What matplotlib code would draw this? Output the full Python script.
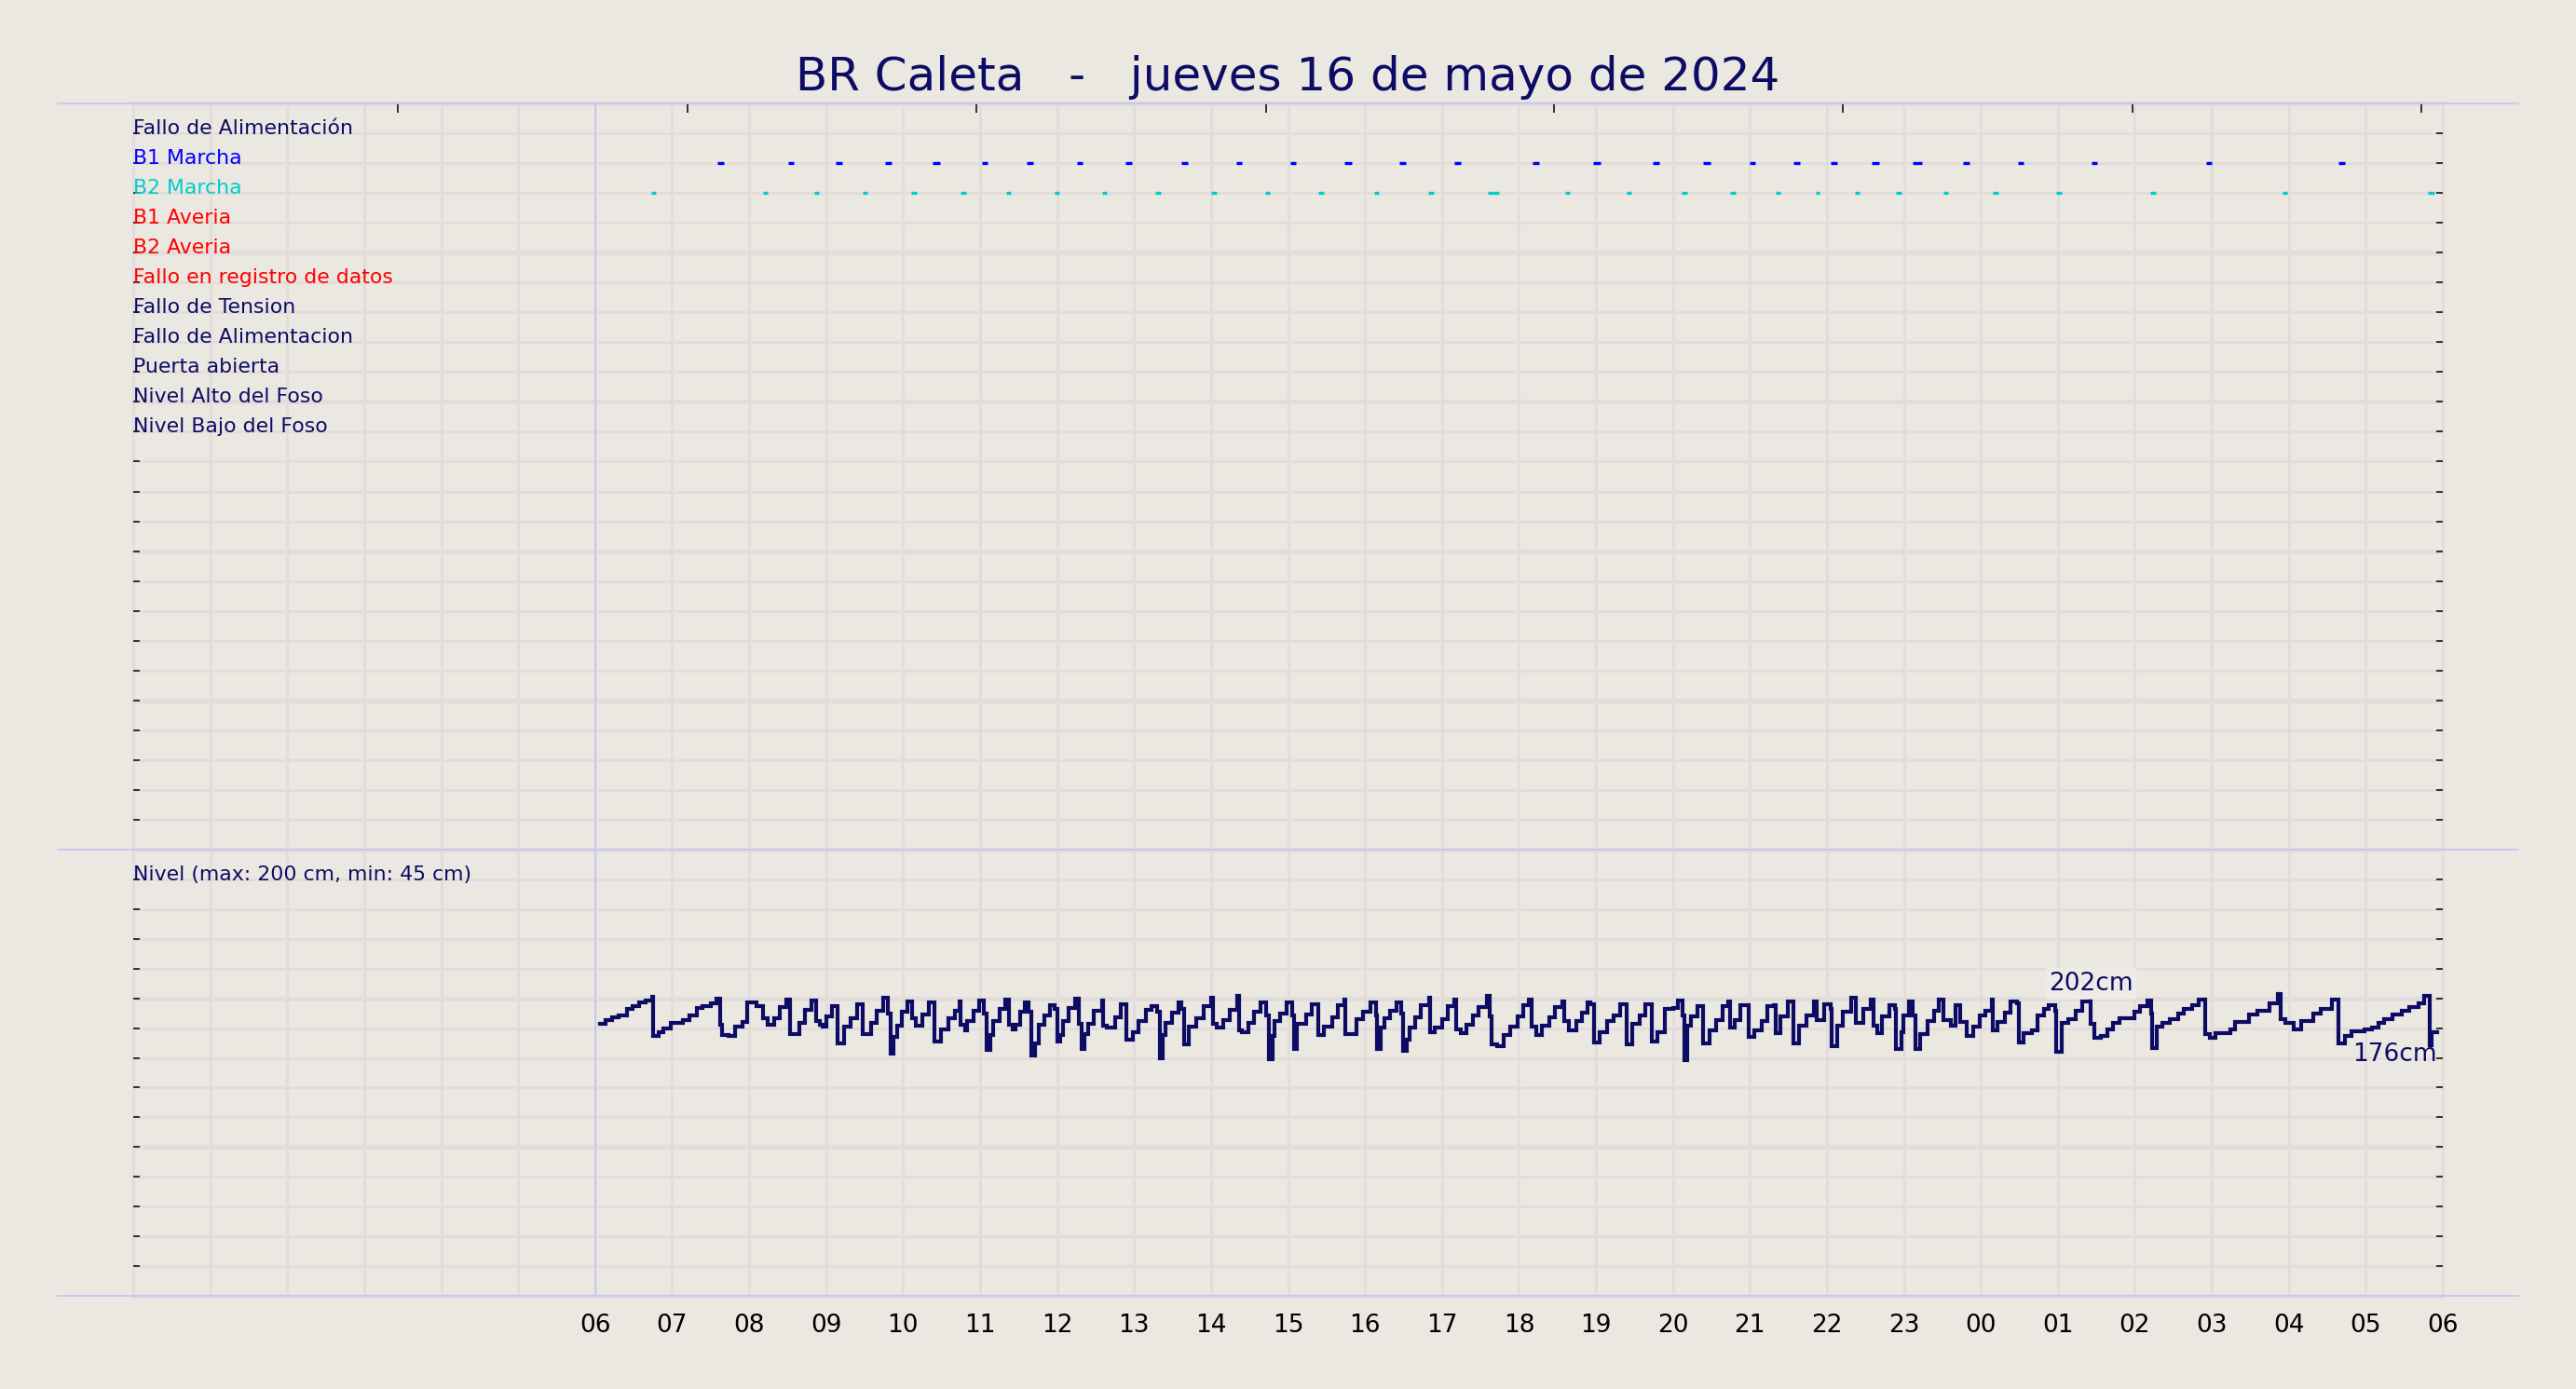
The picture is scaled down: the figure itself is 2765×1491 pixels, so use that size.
import matplotlib
matplotlib.use('Agg')
import matplotlib.pyplot as plt
from matplotlib.lines import Line2D

# ---------------- data ----------------
title = "BR Caleta   -   jueves 16 de mayo de 2024"

row_labels = ["Fallo de Alimentación", "B1 Marcha", "B2 Marcha", "B1 Averia",
              "B2 Averia", "Fallo en registro de datos", "Fallo de Tension",
              "Fallo de Alimentacion", "Puerta abierta", "Nivel Alto del Foso",
              "Nivel Bajo del Foso"]
row_colors = ["#0c0c64", "#0000ff", "#00cccc", "#ff0000", "#ff0000", "#ff0000",
              "#0c0c64", "#0c0c64", "#0c0c64", "#0c0c64", "#0c0c64"]

hour_positions = list(range(6, 31))
hour_labels = ["06", "07", "08", "09", "10", "11", "12", "13", "14", "15", "16",
               "17", "18", "19", "20", "21", "22", "23", "00", "01", "02", "03",
               "04", "05", "06"]
top_ticks = [3.44, 7.20, 10.95, 14.71, 18.45, 22.21, 25.97, 29.72]

# pump run events (hours since 00:00 of the day, duration in hours)
b1_times = [7.63, 8.54, 9.17, 9.81, 10.43, 11.06, 11.65, 12.30, 12.93, 13.66,
            14.36, 15.07, 15.78, 16.49, 17.20, 18.22, 19.01, 19.78, 20.44, 21.03,
            21.61, 22.09, 22.63, 23.17, 23.81, 24.52, 25.47, 26.96, 28.69]
b1_durs = [0.08, 0.07, 0.09, 0.09, 0.09, 0.07, 0.08, 0.07, 0.08, 0.08,
           0.07, 0.07, 0.09, 0.08, 0.09, 0.08, 0.09, 0.08, 0.09, 0.07,
           0.08, 0.08, 0.09, 0.12, 0.08, 0.08, 0.07, 0.07, 0.08]
b2_times = [6.76, 8.21, 8.88, 9.51, 10.14, 10.78, 11.37, 12.00, 12.62, 13.31,
            14.04, 14.73, 15.43, 16.15, 16.86, 17.67, 18.63, 19.43, 20.15, 20.78,
            21.37, 21.88, 22.39, 22.93, 23.54, 24.19, 25.01, 26.24, 27.95, 29.85]
b2_durs = [0.06, 0.07, 0.06, 0.06, 0.07, 0.07, 0.07, 0.07, 0.06, 0.07,
           0.07, 0.06, 0.07, 0.07, 0.07, 0.15, 0.07, 0.06, 0.07, 0.07,
           0.06, 0.06, 0.06, 0.07, 0.06, 0.07, 0.07, 0.07, 0.07, 0.08]

# water level (cm), step series: value holds from each time until the next
level_t = [
    6.06, 6.14, 6.22, 6.31, 6.41, 6.49, 6.57, 6.65, 6.74, 6.75, 6.82, 6.88, 6.98, 7.14,
    7.23, 7.32, 7.40, 7.50, 7.58, 7.63, 7.65, 7.73, 7.82, 7.91, 7.98, 8.09, 8.18, 8.24,
    8.33, 8.40, 8.48, 8.53, 8.65, 8.73, 8.81, 8.87, 8.92, 8.96, 9.00, 9.08, 9.15, 9.23,
    9.32, 9.40, 9.48, 9.58, 9.66, 9.74, 9.80, 9.84, 9.88, 9.92, 9.98, 10.06, 10.12, 10.17,
    10.25, 10.33, 10.41, 10.49, 10.59, 10.67, 10.73, 10.75, 10.81, 10.83, 10.91, 10.99,
    11.05, 11.08, 11.13, 11.17, 11.25, 11.33, 11.38, 11.42, 11.46, 11.52, 11.58, 11.63,
    11.67, 11.71, 11.76, 11.84,
    11.91, 11.97, 12.00, 12.04, 12.08, 12.15, 12.23, 12.28, 12.32, 12.36, 12.40, 12.48,
    12.58, 12.60, 12.65, 12.75, 12.83, 12.90, 12.99, 13.06, 13.15, 13.23, 13.30, 13.33,
    13.37, 13.41, 13.49, 13.58, 13.62, 13.65, 13.71, 13.81, 13.91, 14.00, 14.03, 14.08,
    14.16, 14.24, 14.34, 14.36, 14.40, 14.48, 14.56, 14.64, 14.71, 14.75, 14.80, 14.83,
    14.90, 14.98, 15.06, 15.08, 15.12, 15.23, 15.31, 15.39, 15.47, 15.57, 15.65, 15.73,
    15.74, 15.81, 15.89, 15.98, 16.07, 16.14, 16.16, 16.21, 16.25, 16.33, 16.41, 16.47,
    16.50, 16.54, 16.58, 16.65, 16.73, 16.83, 16.85, 16.90, 17.00, 17.08, 17.16, 17.19,
    17.24, 17.32, 17.40, 17.48, 17.58, 17.62, 17.65, 17.72,
    17.80, 17.89, 17.98, 18.06, 18.13, 18.16, 18.22, 18.30, 18.39, 18.47, 18.56, 18.59,
    18.65, 18.74, 18.82, 18.89, 18.93, 18.98, 19.05, 19.15, 19.23, 19.31, 19.40, 19.47,
    19.57, 19.64, 19.73, 19.80, 19.90, 20.00, 20.07, 20.12, 20.15, 20.19, 20.24, 20.32,
    20.39, 20.48, 20.56, 20.64, 20.72, 20.74, 20.80, 20.88, 20.98, 21.06, 21.15, 21.23,
    21.31, 21.33, 21.39, 21.49, 21.56, 21.64, 21.73, 21.83, 21.87, 21.97, 22.05, 22.06,
    22.13, 22.21, 22.31, 22.37, 22.47, 22.57, 22.61, 22.66, 22.72, 22.81, 22.88, 22.90,
    22.97, 22.99, 23.07, 23.12, 23.15, 23.21, 23.31, 23.39, 23.45, 23.51, 23.61, 23.67,
    23.73, 23.82, 23.90, 23.98, 24.06, 24.14, 24.16, 24.22, 24.31, 24.39, 24.47, 24.49,
    24.55, 24.66, 24.74, 24.82, 24.88, 24.97, 24.98, 25.05, 25.13, 25.23, 25.32, 25.41,
    25.43, 25.48, 25.56, 25.64, 25.72, 25.80, 25.99, 26.07, 26.16, 26.21, 26.23, 26.28,
    26.36, 26.46, 26.56, 26.64, 26.75, 26.83, 26.91, 26.97, 27.05, 27.24, 27.30, 27.48,
    27.59, 27.75, 27.86, 27.89, 27.95, 28.06, 28.16, 28.32, 28.41, 28.56, 28.64, 28.65,
    28.73, 28.81, 28.98, 29.08, 29.16, 29.24, 29.35, 29.47, 29.57, 29.68, 29.76, 29.83,
    29.86, 29.93]
level_cm = [
    186.8, 188.9, 190.1, 191.3, 194.5, 196.1, 197.7, 199.0, 200.6, 180.3, 182.4, 184.3, 187.2, 188.9,
    191.0, 194.8, 196.1, 197.3, 199.7, 186.4, 181.1, 180.3, 185.1, 187.6, 198.1, 196.1, 189.7, 186.1,
    189.7, 195.3, 199.4, 181.5, 187.2, 194.0, 198.9, 188.0, 186.4, 185.3, 190.8, 196.1, 176.7, 185.1,
    189.7, 196.9, 181.5, 187.2, 193.7, 200.2, 192.1, 171.1, 180.0, 185.6, 192.9, 198.5, 189.7, 185.6,
    191.6, 197.7, 177.6, 184.0, 189.7, 193.7, 198.5, 186.4, 183.5, 188.4, 193.7, 198.9,
    192.1, 173.2, 180.8, 188.0, 194.5, 199.4, 186.1, 184.0, 186.4, 192.9, 197.7, 192.9,
    170.0, 176.7, 186.1, 191.3,
    196.4, 194.5, 177.6, 180.8, 188.0, 194.8, 199.7, 186.8, 173.8, 181.3, 186.8, 193.7,
    198.9, 186.0, 184.8, 190.0, 196.9, 178.7, 182.4, 188.4, 194.0, 195.8, 192.9, 168.7,
    180.8, 187.2, 192.4, 197.7, 194.5, 175.9, 185.1, 189.7, 195.8, 200.2, 186.8, 184.8,
    188.9, 194.0, 201.3, 183.5, 182.4, 187.2, 193.2, 197.7, 191.3, 168.3, 180.3, 188.0,
    192.1, 198.1, 191.3, 173.8, 186.8, 191.6, 196.9, 180.8, 185.1, 190.0, 196.4, 199.4,
    181.6, 181.3, 189.3, 192.9, 198.1, 191.3, 173.5, 184.8, 189.7, 193.7, 197.7, 192.1,
    172.7, 178.4, 184.8, 190.0, 196.4, 200.5, 182.4, 184.8, 189.3, 196.1, 199.4, 184.0,
    181.9, 186.4, 191.3, 195.3, 201.3, 190.5, 175.9, 175.1,
    180.8, 185.1, 190.5, 196.4, 199.4, 185.1, 180.8, 185.6, 190.0, 195.3, 198.5, 188.0,
    183.5, 188.0, 192.6, 198.1, 196.9, 177.1, 182.4, 188.4, 191.3, 196.9, 175.9, 186.8,
    191.3, 196.9, 177.6, 182.4, 194.5, 194.8, 198.9, 191.3, 167.9, 185.6, 190.5, 196.1,
    176.7, 183.2, 188.9, 196.1, 198.5, 184.8, 188.9, 196.4, 179.7, 183.2, 188.0, 195.8,
    196.4, 181.9, 190.5, 198.5, 176.7, 185.6, 191.3, 198.5, 188.9, 196.9, 194.5, 175.1,
    185.6, 192.9, 200.2, 187.2, 194.5, 199.4, 185.6, 181.9, 190.5, 196.4, 194.5, 173.8,
    182.4, 191.3, 198.5, 191.3, 173.8, 181.6, 188.4, 193.7, 199.4, 188.9, 185.6, 196.4,
    187.8, 180.4, 185.3, 191.0, 193.5, 199.5, 183.2, 187.8, 192.7, 198.4, 197.6, 177.2,
    182.1, 183.2, 191.0, 194.3, 196.3, 193.5, 172.3, 187.0, 189.4, 193.5, 198.4, 199.5,
    186.5, 179.3, 180.4, 183.7, 187.0, 189.7, 193.0, 195.9, 198.9, 191.9, 173.9, 185.3,
    187.4, 189.4, 191.9, 194.3, 196.3, 199.2, 181.6, 179.3, 182.1, 183.7, 187.8, 191.4,
    193.5, 197.6, 202.4, 189.4, 187.0, 183.7, 188.1, 191.9, 194.3, 199.2, 197.2, 176.7,
    180.4, 182.9, 183.7, 184.8, 187.0, 189.1, 191.4, 193.5, 195.6, 197.6, 201.1, 175.5,
    182.5, 182.5]

level_title = "Nivel (max: 200 cm, min: 45 cm)"
peak_label = "202cm"
last_label = "176cm"

# ---------------- style ----------------
W, H = 2765, 1491
BG = '#ebe7e1'
GRID = '#e2dcdb'
NAVY = '#0c0c64'
LAV = '#c6c6f4'

L_PX, R_PX = 143, 2622
TOP_PX, MID_PX, BOT_PX = 111, 912, 1391

fig = plt.figure(figsize=(W / 100, H / 100), dpi=100, facecolor=BG)


def fx(px):
    return px / W


def fy(py):
    return 1 - py / H


ax_top = fig.add_axes([fx(L_PX), fy(MID_PX), fx(R_PX - L_PX), (MID_PX - TOP_PX) / H])
ax_bot = fig.add_axes([fx(L_PX), fy(BOT_PX), fx(R_PX - L_PX), (BOT_PX - MID_PX) / H])

LV_MIN, LV_STEP, N_BOT = 45.0, 15.5, 15
N_TOP = 25

for ax in (ax_top, ax_bot):
    ax.set_facecolor(BG)
    for s in ax.spines.values():
        s.set_visible(False)
    ax.set_xlim(0, 30)
    for h in range(0, 31):
        ax.axvline(h, color=GRID, lw=2.0, zorder=0, clip_on=False)
    ax.axvline(6, color=LAV, lw=1.3, zorder=1, clip_on=False)

# top panel
ax_top.set_ylim(0, N_TOP)
for k in range(0, N_TOP + 1):
    ax_top.axhline(k, color=GRID, lw=3.6 if k % 5 == 0 else 2.0, zorder=0, clip_on=False)
ax_top.set_yticks(range(1, N_TOP))
ax_top.yaxis.set_ticks_position('both')
ax_top.tick_params(axis='y', direction='in', length=5, width=1.3, color='#222222',
                   labelleft=False, labelright=False)
ax_top.set_xticks(top_ticks)
ax_top.tick_params(axis='x', direction='in', length=7, width=1.3, color='#222222',
                   top=True, bottom=False, labeltop=False, labelbottom=False)

for i, (lab, col) in enumerate(zip(row_labels, row_colors)):
    ax_top.text(0.0, N_TOP - 1 - i - 0.02, lab, color=col, fontsize=15.8,
                ha='left', va='baseline', zorder=5)

ax_top.hlines([23] * len(b1_times), [t - d / 2 for t, d in zip(b1_times, b1_durs)],
              [t + d / 2 for t, d in zip(b1_times, b1_durs)], color='#0000ff', lw=2.4, zorder=4)
ax_top.hlines([22] * len(b2_times), [t - d / 2 for t, d in zip(b2_times, b2_durs)],
              [t + d / 2 for t, d in zip(b2_times, b2_durs)], color='#00cccc', lw=2.4, zorder=4)

# bottom panel
ax_bot.set_ylim(LV_MIN, LV_MIN + N_BOT * LV_STEP)
for k in range(0, N_BOT + 1):
    ax_bot.axhline(LV_MIN + k * LV_STEP, color=GRID, lw=3.6 if k % 5 == 0 else 2.0,
                   zorder=0, clip_on=False)
ax_bot.set_yticks([LV_MIN + k * LV_STEP for k in range(1, N_BOT)])
ax_bot.yaxis.set_ticks_position('both')
ax_bot.tick_params(axis='y', direction='in', length=5, width=1.3, color='#222222',
                   labelleft=False, labelright=False)
ax_bot.set_xticks(hour_positions)
ax_bot.set_xticklabels(hour_labels)
ax_bot.tick_params(axis='x', length=0, pad=14, labelsize=19, labelcolor='black')

n = min(len(level_t), len(level_cm))
ax_bot.step(level_t[:n], level_cm[:n], where='post', color=NAVY, lw=3.0, zorder=5,
            solid_joinstyle='miter')

ax_bot.text(0.0, LV_MIN + (N_BOT - 1) * LV_STEP - 0.3, level_title, color=NAVY,
            fontsize=15.8, ha='left', va='baseline', zorder=6)
ax_bot.text(25.43, 204.3, peak_label, color=NAVY, fontsize=19, ha='center', va='baseline',
            zorder=6, bbox=dict(boxstyle='round,pad=0.15', fc='#eeebe7', ec='none'))
ax_bot.text(29.92, 167.1, last_label, color=NAVY, fontsize=19, ha='right', va='baseline',
            zorder=6)

# figure-level separator lines
for py in (TOP_PX, MID_PX, BOT_PX):
    fig.add_artist(Line2D([fx(62), fx(2703)], [fy(py), fy(py)], color=LAV, lw=1.3,
                          transform=fig.transFigure))

fig.text(0.5, fy(83), title, color=NAVY, fontsize=36, ha='center', va='center')

fig.savefig('out.png', dpi=100, facecolor=BG)
